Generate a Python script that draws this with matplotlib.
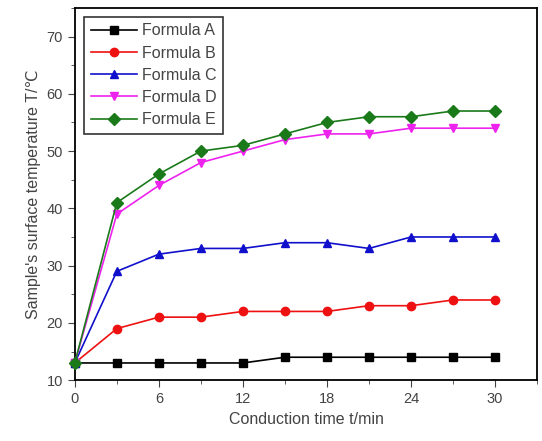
import matplotlib.pyplot as plt
from matplotlib.ticker import MultipleLocator

plt.rcParams['font.family'] = ['Liberation Sans', 'DejaVu Sans']

# data
tempo = [0, 3, 6, 9, 12, 15, 18, 21, 24, 27, 30]
formula_a = [13, 13, 13, 13, 13, 14, 14, 14, 14, 14, 14]
formula_b = [13, 19, 21, 21, 22, 22, 22, 23, 23, 24, 24]
formula_c = [13, 29, 32, 33, 33, 34, 34, 33, 35, 35, 35]
formula_d = [13, 39, 44, 48, 50, 52, 53, 53, 54, 54, 54]
formula_e = [13, 41, 46, 50, 51, 53, 55, 56, 56, 57, 57]

series = [
    ('Formula A', formula_a, 'black', 's'),
    ('Formula B', formula_b, '#ee1111', 'o'),
    ('Formula C', formula_c, '#1010cc', '^'),
    ('Formula D', formula_d, '#ee22ee', 'v'),
    ('Formula E', formula_e, '#1a7a1a', 'D'),
]

fig = plt.figure(figsize=(5.42, 4.41), dpi=100)
ax = fig.add_axes([0.138, 0.138, 0.853, 0.844])

for nome, valores, cor, marc in series:
    ax.plot(tempo, valores, color=cor, marker=marc, markersize=6, linewidth=1.2,
            label=nome, clip_on=False, zorder=3)

ax.set_xlim(0, 33)
ax.set_ylim(10, 75)
ax.xaxis.set_major_locator(MultipleLocator(6))
ax.xaxis.set_minor_locator(MultipleLocator(3))
ax.yaxis.set_major_locator(MultipleLocator(10))
ax.yaxis.set_minor_locator(MultipleLocator(5))
ax.tick_params(which='both', direction='out', labelsize=10.5, colors='#444444')
ax.tick_params(which='major', length=5)
ax.tick_params(which='minor', length=3)
for s in ax.spines.values():
    s.set_linewidth(1.3)

ax.set_xlabel('Conduction time t/min', fontsize=11.5, color='#444444')
ax.set_ylabel("Sample's surface temperature T/\u2103", fontsize=11.5, color='#444444')

leg = ax.legend(loc='upper left', fontsize=11.5, frameon=True, fancybox=False,
                edgecolor='black', handlelength=2.9, handletextpad=0.3,
                borderpad=0.4, labelspacing=0.45, bbox_to_anchor=(0.003, 0.997))
leg.get_frame().set_linewidth(1.2)
for t in leg.get_texts():
    t.set_color('#444444')

fig.savefig('out.png', dpi=100)
